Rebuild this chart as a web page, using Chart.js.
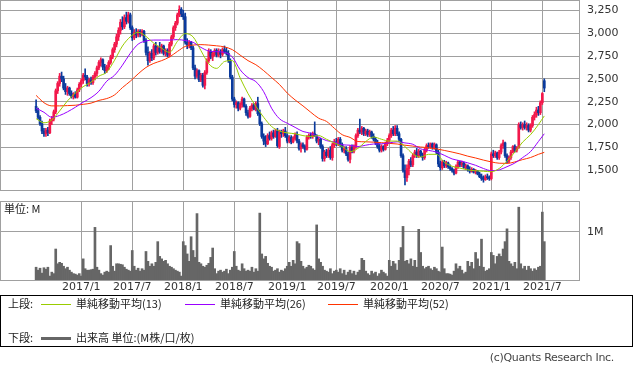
<!DOCTYPE html>
<html lang="ja">
<head>
<meta charset="utf-8">
<title>週足チャート</title>
<script src="https://cdn.jsdelivr.net/npm/chart.js@4.4.1/dist/chart.umd.min.js"></script>
<style>
  body { margin: 0; background: #fff; }
  #wrap { position: relative; width: 633px; height: 370px; overflow: hidden; background: #fff; }
  #price { position: absolute; left: 0; top: 0; }
  #volume { position: absolute; left: 0; top: 200px; }
  .jp { font-family: "Noto Sans CJK JP", "DejaVu Sans", sans-serif; font-size: 11px; color: #222; line-height: 13px; white-space: nowrap; }
  #unit { position: absolute; left: 4px; top: 202px; }
  #legend { position: absolute; left: 0; top: 295px; width: 631px; height: 50px; border: 1px solid #000; }
  #legend .item { position: absolute; }
  #legend .swatch { position: absolute; height: 1px; width: 30px; }
  #copy { position: absolute; right: 19px; top: 351px; font-family: "DejaVu Sans", sans-serif; font-size: 11px; color: #444; letter-spacing: -0.3px; }
</style>
</head>
<body>
<div id="wrap">
  <canvas id="price" width="633" height="191"></canvas>
  <canvas id="volume" width="633" height="96"></canvas>
  <div id="unit" class="jp">単位: M</div>
  <div id="legend" class="jp">
    <span class="item" style="left:7px;top:1px">上段:</span>
    <span class="swatch" style="left:40px;top:8px;background:#99cc00"></span>
    <span class="item" style="left:75px;top:1px">単純移動平均(13)</span>
    <span class="swatch" style="left:184px;top:8px;background:#9900ff"></span>
    <span class="item" style="left:219px;top:1px">単純移動平均(26)</span>
    <span class="swatch" style="left:327px;top:8px;background:#ff3300"></span>
    <span class="item" style="left:362px;top:1px">単純移動平均(52)</span>
    <span class="item" style="left:7px;top:35px">下段:</span>
    <span class="swatch" style="left:40px;top:41px;height:3px;background:#666"></span>
    <span class="item" style="left:75px;top:35px">出来高 単位:(M株/口/枚)</span>
  </div>
  <div id="copy">(c)Quants Research Inc.</div>
</div>
<script>
// weekly candles, one entry per week (index 0 = late Jul 2016)
const opens = [
  2200,2150,2080,2010,1930,1900,1940,1910,2040,2060,
  2140,2370,2450,2530,2500,2400,2360,2400,2340,2310,
  2330,2300,2380,2440,2480,2540,2520,2450,2490,2460,
  2520,2560,2620,2680,2710,2630,2590,2630,2680,2740,
  2820,2880,2960,3030,3120,3070,3170,3130,3200,3060,
  2950,3010,2980,3020,2990,3020,2920,2790,2700,2780,
  2730,2860,2790,2840,2800,2860,2780,2810,2760,2880,
  2960,3060,3110,3200,3260,3210,3180,2900,2870,2900,
  2840,2620,2530,2590,2490,2540,2430,2570,2700,2800,
  2740,2780,2810,2760,2800,2770,2820,2800,2780,2700,
  2520,2280,2220,2240,2180,2220,2280,2200,2130,2090,
  2180,2210,2170,2230,2120,2010,1870,1820,1790,1880,
  1850,1910,1870,1930,1760,1920,1900,1930,1880,1820,
  1860,1810,1850,1890,1820,1740,1780,1760,1730,1860,
  1880,1870,1900,1880,1820,1840,1760,1630,1700,1660,
  1720,1640,1780,1810,1790,1840,1780,1720,1740,1680,
  1620,1750,1710,1760,1880,1940,1920,1960,1900,1930,
  1890,1920,1870,1840,1800,1760,1720,1760,1730,1790,
  1830,1880,1940,1900,1960,1900,1840,1660,1500,1420,
  1520,1600,1560,1660,1700,1660,1710,1670,1640,1720,
  1770,1760,1790,1750,1780,1700,1570,1530,1590,1550,
  1580,1540,1520,1500,1470,1540,1590,1560,1580,1530,
  1550,1510,1490,1510,1480,1490,1460,1430,1410,1400,
  1430,1420,1410,1680,1660,1690,1640,1700,1770,1800,
  1660,1600,1640,1700,1760,1720,1750,2000,1970,2000,
  1970,1990,1940,1990,2080,2110,2160,2130,2240,2480
];
const highs = [
  2270,2180,2100,2040,1960,1960,1970,2060,2090,2160,
  2390,2470,2560,2575,2530,2450,2420,2410,2370,2350,
  2360,2400,2460,2500,2560,2610,2540,2510,2520,2540,
  2580,2640,2700,2730,2720,2660,2650,2700,2760,2840,
  2900,2990,3060,3150,3180,3200,3230,3230,3220,3080,
  3040,3050,3040,3040,3040,3030,2940,2850,2800,2820,
  2880,2900,2860,2900,2880,2870,2830,2830,2900,2980,
  3080,3130,3220,3300,3280,3250,3220,2940,2920,2910,
  2860,2650,2610,2600,2560,2560,2590,2720,2830,2820,
  2800,2830,2830,2830,2820,2840,2860,2840,2810,2720,
  2540,2300,2260,2250,2240,2300,2290,2220,2160,2200,
  2230,2230,2250,2300,2160,2030,1900,1880,1900,1920,
  1930,1940,1950,1960,1940,1940,1950,1970,1900,1880,
  1880,1870,1910,1920,1840,1800,1800,1780,1880,1900,
  1910,1920,2030,1890,1860,1850,1780,1720,1730,1740,
  1760,1800,1840,1850,1860,1860,1800,1760,1760,1700,
  1770,1780,1780,1900,1960,2060,1980,1970,1950,1950,
  1940,1930,1900,1860,1830,1790,1780,1770,1810,1850,
  1900,1960,1980,1990,1990,1920,1850,1680,1560,1560,
  1620,1640,1680,1720,1740,1730,1720,1690,1740,1790,
  1800,1800,1800,1800,1790,1720,1600,1610,1610,1600,
  1590,1560,1530,1510,1560,1610,1600,1600,1590,1570,
  1560,1540,1530,1520,1510,1500,1480,1460,1440,1450,
  1460,1440,1700,1720,1710,1700,1720,1790,1830,1810,
  1680,1660,1720,1770,1780,1760,2020,2030,2020,2040,
  2020,2010,2010,2100,2140,2190,2200,2260,2350,2500
];
const lows = [
  2130,2060,1990,1900,1870,1870,1880,1900,2000,2040,
  2120,2340,2420,2470,2380,2330,2320,2320,2290,2280,
  2290,2290,2360,2410,2450,2490,2420,2420,2440,2440,
  2490,2530,2600,2640,2600,2560,2570,2600,2660,2720,
  2790,2850,2920,2990,3040,3050,3100,3110,3040,2920,
  2930,2950,2960,2960,2970,2900,2760,2650,2680,2700,
  2710,2760,2770,2780,2780,2760,2750,2740,2740,2860,
  2940,3030,3090,3180,3180,3150,2880,2830,2840,2820,
  2600,2500,2510,2470,2470,2410,2390,2550,2680,2720,
  2700,2750,2740,2740,2730,2750,2780,2760,2680,2500,
  2260,2190,2180,2150,2160,2190,2190,2100,2070,2080,
  2150,2160,2150,2100,1990,1850,1780,1760,1780,1830,
  1830,1850,1860,1750,1740,1860,1870,1860,1800,1800,
  1790,1800,1830,1800,1720,1700,1740,1700,1720,1840,
  1850,1850,1870,1800,1780,1740,1600,1600,1640,1640,
  1620,1610,1750,1770,1770,1760,1700,1690,1660,1600,
  1580,1690,1690,1740,1860,1900,1890,1880,1880,1870,
  1870,1850,1820,1780,1740,1700,1700,1710,1720,1770,
  1810,1860,1880,1880,1880,1820,1640,1480,1340,1380,
  1450,1540,1540,1640,1640,1640,1650,1610,1620,1700,
  1740,1740,1730,1730,1680,1540,1500,1510,1530,1530,
  1520,1500,1480,1450,1460,1520,1540,1540,1520,1510,
  1490,1470,1480,1470,1460,1450,1420,1390,1370,1390,
  1400,1390,1395,1640,1640,1620,1620,1680,1740,1640,
  1580,1580,1620,1690,1700,1700,1740,1950,1940,1950,
  1940,1920,1920,1970,2050,2080,2100,2110,2220,2360
];
const closes = [
  2150,2080,2010,1930,1900,1940,1910,2040,2060,2140,
  2370,2450,2530,2500,2400,2360,2400,2340,2310,2330,
  2300,2380,2440,2480,2540,2520,2450,2490,2460,2520,
  2560,2620,2680,2710,2630,2590,2630,2680,2740,2820,
  2880,2960,3030,3120,3070,3170,3130,3200,3060,2950,
  3010,2980,3020,2990,3020,2920,2790,2700,2780,2730,
  2860,2790,2840,2800,2860,2780,2810,2760,2880,2960,
  3060,3110,3200,3260,3210,3180,2900,2870,2900,2840,
  2620,2530,2590,2490,2540,2430,2570,2700,2800,2740,
  2780,2810,2760,2800,2770,2820,2800,2780,2700,2520,
  2280,2220,2240,2180,2220,2280,2200,2130,2090,2180,
  2210,2170,2230,2120,2010,1870,1820,1790,1880,1850,
  1910,1870,1930,1770,1920,1900,1930,1880,1820,1860,
  1810,1850,1890,1820,1740,1780,1760,1730,1860,1880,
  1870,1900,1880,1820,1840,1760,1630,1700,1660,1720,
  1640,1780,1810,1790,1840,1780,1720,1740,1680,1620,
  1750,1710,1760,1880,1940,1920,1960,1900,1930,1890,
  1920,1870,1840,1800,1760,1720,1760,1730,1790,1830,
  1880,1940,1900,1960,1900,1840,1660,1500,1420,1520,
  1600,1560,1660,1700,1660,1710,1670,1640,1720,1770,
  1760,1790,1750,1780,1700,1570,1530,1590,1550,1580,
  1540,1520,1500,1470,1540,1590,1560,1580,1530,1550,
  1510,1490,1510,1480,1490,1460,1430,1410,1400,1430,
  1420,1410,1680,1660,1690,1640,1700,1770,1800,1660,
  1600,1640,1700,1760,1720,1750,2000,1970,2000,1970,
  1990,1940,1990,2080,2110,2160,2130,2240,2340,2400
];

// weekly volume, millions of shares
const volumes = [
  0.28,0.22,0.26,0.16,0.27,0.24,0.28,0.10,0.18,0.15,
  0.65,0.35,0.38,0.36,0.30,0.25,0.28,0.22,0.18,0.15,
  0.14,0.12,0.15,0.10,0.45,0.25,0.22,0.22,0.23,0.24,
  1.09,0.28,0.22,0.15,0.12,0.18,0.20,0.18,0.72,0.30,
  0.20,0.35,0.35,0.34,0.33,0.28,0.24,0.22,0.20,0.62,
  0.30,0.22,0.26,0.20,0.25,0.22,0.60,0.40,0.30,0.35,
  0.30,0.38,0.80,0.50,0.45,0.40,0.42,0.35,0.30,0.28,
  0.25,0.22,0.20,0.18,0.10,0.80,0.72,0.55,0.40,0.90,
  0.62,0.48,1.37,0.38,0.35,0.30,0.28,0.32,0.36,0.48,
  0.67,0.25,0.15,0.20,0.22,0.18,0.20,0.24,0.15,0.22,
  0.28,0.60,0.30,0.22,0.20,0.35,0.25,0.20,0.22,0.20,
  0.28,0.18,0.25,0.20,1.38,0.55,0.45,0.50,0.36,0.30,
  0.28,0.20,0.22,0.25,0.18,0.22,0.20,0.25,0.30,0.38,
  0.30,0.42,0.35,0.80,0.76,0.40,0.30,0.25,0.28,0.32,
  0.30,0.25,0.22,1.14,0.45,0.38,0.30,0.22,0.20,0.18,
  0.25,0.15,0.20,0.22,0.18,0.25,0.15,0.22,0.12,0.18,
  0.22,0.15,0.20,0.12,0.18,0.22,0.46,0.42,0.20,0.15,
  0.12,0.20,0.15,0.18,0.10,0.15,0.22,0.18,0.15,0.10,
  0.42,0.30,0.40,0.35,0.22,0.42,0.68,1.11,0.40,0.42,
  0.35,0.45,0.30,0.42,0.28,1.05,0.58,0.30,0.25,0.28,
  0.30,0.25,0.22,0.28,0.25,0.20,0.18,0.69,0.25,0.15,
  0.15,0.14,0.12,0.20,0.35,0.25,0.30,0.22,0.15,0.18,
  0.40,0.30,0.38,0.25,0.58,0.45,0.30,0.85,0.28,0.20,
  0.22,0.25,0.58,0.52,0.35,0.50,0.55,0.50,0.65,0.80,
  1.06,0.40,0.35,0.30,0.38,0.25,1.50,0.35,0.25,0.30,
  0.22,0.30,0.25,0.20,0.25,0.22,0.28,0.30,1.40,0.80
];

// moving averages read every 4th week
const maWeeks = [
  0,4,8,12,16,20,24,28,32,36,40,44,48,52,56,60,64,68,72,76,80,84,88,92,96,100,
  104,108,112,116,120,124,128,132,136,140,144,148,152,156,160,164,168,172,176,180,
  184,188,192,196,200,204,208,212,216,220,224,228,232,236,240,244,248,252,256,259
];
const ma13 = [
  2065,2020,2050,2150,2260,2345,2415,2465,2530,2575,2705,2860,2960,3010,2965,2890,2835,2790,2910,2995,2960,2810,2665,2615,2690,2700,
  2510,2340,2200,2080,1980,1930,1910,1900,1880,1870,1880,1840,1800,1760,1705,1740,1815,1865,1840,1820,
  1820,1760,1680,1645,1675,1675,1590,1545,1525,1505,1495,1490,1485,1520,1600,1700,1810,1890,2000,2095
];
const ma26 = [
  2180,2135,2080,2100,2140,2190,2245,2295,2365,2475,2540,2650,2780,2880,2915,2925,2925,2925,2930,2920,2900,2845,2805,2798,2790,2740,
  2600,2515,2470,2360,2180,2065,2015,1970,1925,1905,1865,1825,1810,1780,1775,1760,1775,1788,1790,1800,
  1812,1800,1785,1735,1718,1700,1665,1625,1605,1582,1555,1520,1497,1505,1540,1580,1640,1705,1815,1900
];
const ma52 = [
  2320,2240,2205,2205,2208,2212,2222,2235,2265,2285,2325,2405,2475,2555,2625,2670,2700,2740,2800,2855,2870,2875,2870,2862,2850,2820,
  2760,2700,2655,2590,2515,2440,2345,2270,2205,2135,2070,2035,1960,1890,1860,1815,1812,1808,1803,1795,
  1788,1775,1765,1755,1748,1735,1718,1700,1680,1655,1635,1612,1592,1578,1576,1592,1618,1640,1675,1697
];

// axis ticks
const tickWeeks = [23, 49, 75, 101, 128, 153, 180, 206, 232, 258];
const tickLabels = ['2017/1', '2017/7', '2018/1', '2018/7', '2019/1', '2019/7', '2020/1', '2020/7', '2021/1', '2021/7'];
const priceTicks = [1500, 1750, 2000, 2250, 2500, 2750, 3000, 3250];
const volumeTicks = [1];

const UP = '#f2184b';
const DOWN = '#0b3a9c';
const GRID = '#a0a0a0';
const TEXT = '#333';
const AXIS_FONT = { family: 'DejaVu Sans', size: 11 };

const X_MIN = -18.4;
const X_MAX = 277.2;

// gray frame round each plot area
const framePlugin = {
  id: 'frame',
  afterDraw(chart) {
    const { ctx, chartArea: a } = chart;
    ctx.save();
    ctx.strokeStyle = GRID;
    ctx.lineWidth = 1;
    ctx.strokeRect(a.left + 0.5, a.top + 0.5, a.right - a.left - 1, a.bottom - a.top - 1);
    ctx.restore();
  }
};

// no automatic label padding: plot areas must fill their canvases
function noPadding(scale) {
  scale.paddingTop = 0;
  scale.paddingBottom = 0;
  scale.paddingLeft = 0;
  scale.paddingRight = 0;
}

function xScale(showLabels) {
  return {
    type: 'linear',
    min: X_MIN,
    max: X_MAX,
    offset: false,
    border: { display: false },
    grid: { color: GRID, drawTicks: false, offset: false },
    afterBuildTicks: (scale) => { scale.ticks = tickWeeks.map(v => ({ value: v })); },
    afterFit: (scale) => {
      scale.height = showLabels ? 15 : 0;
      noPadding(scale);
    },
    ticks: {
      display: showLabels,
      autoSkip: false,
      maxRotation: 0,
      padding: 0,
      color: TEXT,
      font: AXIS_FONT,
      callback: (v, i) => tickLabels[i]
    }
  };
}

function yScale(min, max, tickValues, format) {
  return {
    position: 'right',
    min: min,
    max: max,
    border: { display: false },
    grid: { color: GRID, drawTicks: false },
    afterBuildTicks: (scale) => { scale.ticks = tickValues.map(v => ({ value: v })); },
    afterFit: (scale) => {
      scale.width = 53;
      noPadding(scale);
    },
    ticks: {
      padding: 7,
      color: TEXT,
      font: AXIS_FONT,
      callback: format
    }
  };
}

const candleColors = opens.map((o, i) => (closes[i] >= o ? UP : DOWN));

function maDataset(values, color) {
  return {
    type: 'line',
    data: maWeeks.map((w, i) => ({ x: w, y: values[i] })),
    borderColor: color,
    borderWidth: 1,
    pointRadius: 0,
    cubicInterpolationMode: 'monotone',
    order: 0
  };
}

new Chart(document.getElementById('price'), {
  type: 'bar',
  data: {
    datasets: [
      {
        data: highs.map((h, i) => ({ x: i, y: [lows[i], h] })),
        backgroundColor: candleColors,
        barThickness: 1,
        grouped: false,
        order: 2
      },
      {
        data: opens.map((o, i) => ({ x: i, y: [o, closes[i]] })),
        backgroundColor: candleColors,
        barThickness: 2,
        minBarLength: 1,
        grouped: false,
        order: 1
      },
      maDataset(ma13, '#99cc00'),
      maDataset(ma26, '#9900ff'),
      maDataset(ma52, '#ff3300')
    ]
  },
  options: {
    responsive: false,
    animation: false,
    events: [],
    layout: { padding: 0, autoPadding: false },
    plugins: { legend: { display: false }, tooltip: { enabled: false } },
    scales: {
      x: xScale(false),
      y: yScale(1274, 3363, priceTicks, (v) => v.toLocaleString('en-US'))
    }
  },
  plugins: [framePlugin]
});

new Chart(document.getElementById('volume'), {
  type: 'bar',
  data: {
    datasets: [{
      data: volumes.map((v, i) => ({ x: i, y: v })),
      backgroundColor: '#666666',
      barThickness: 2
    }]
  },
  options: {
    responsive: false,
    animation: false,
    events: [],
    layout: { padding: { top: 1 }, autoPadding: false },
    plugins: { legend: { display: false }, tooltip: { enabled: false } },
    scales: {
      x: xScale(true),
      y: yScale(0, 1.626, volumeTicks, (v) => v + 'M')
    }
  },
  plugins: [framePlugin]
});
</script>
</body>
</html>
